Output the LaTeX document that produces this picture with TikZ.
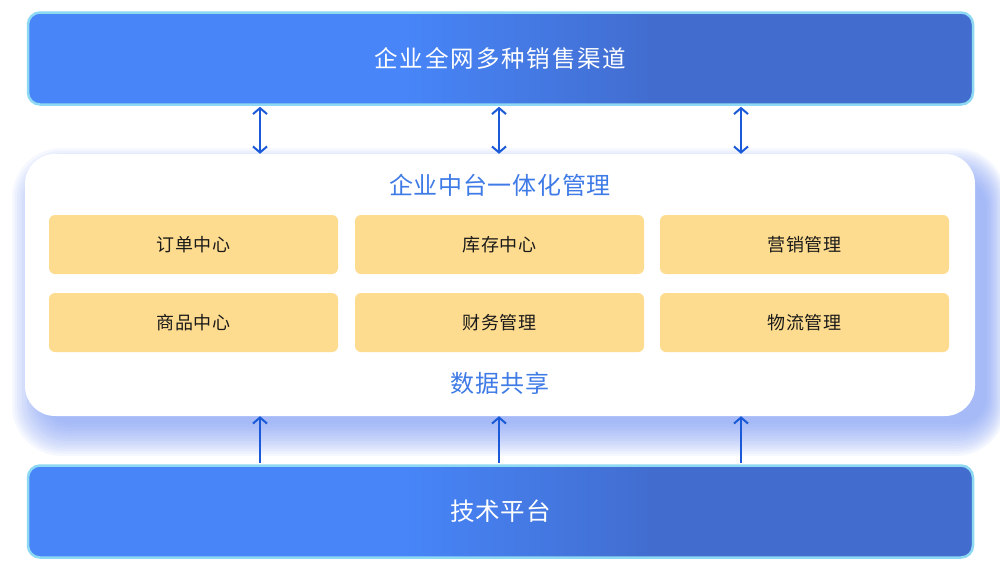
\documentclass[tikz,border=0pt]{standalone}
\usepackage{fontspec}
\setmainfont{Noto Sans CJK SC}
\usetikzlibrary{arrows.meta}
\definecolor{bA}{HTML}{4785F8}
\definecolor{bB}{HTML}{426DCF}
\definecolor{bord}{HTML}{8DD8F2}
\definecolor{yel}{HTML}{FEDC8F}
\definecolor{ttl}{HTML}{3F7BE6}
\definecolor{arr}{HTML}{1A5AD9}
\definecolor{shd}{HTML}{6E8FF2}
\definecolor{ink}{HTML}{1A1A1A}
\pgfdeclarehorizontalshading{bluebar}{100bp}{color(0bp)=(bA); color(45bp)=(bA); color(58bp)=(bB); color(100bp)=(bB)}
\tikzset{
  bar/.style={draw=bord, line width=2.5pt, rounded corners=12pt, shading=bluebar,
    minimum width=945pt, minimum height=92pt, inner sep=0pt, text=white},
  mod/.style={fill=yel, rounded corners=6pt, minimum width=289pt, minimum height=59pt,
    inner sep=0pt, text=ink, font=\fontsize{18}{20}\selectfont\addfontfeature{LetterSpace=3}},
  ttlstyle/.style={text=ttl, inner sep=0pt, font=\fontsize{24}{26}\selectfont\addfontfeature{LetterSpace=3}},
  link/.style={draw=arr, line width=2pt},
}
\begin{document}
\begin{tikzpicture}[x=1pt,y=-1pt]
\useasboundingbox (0,0) rectangle (1000,573);
% shadow of the middle panel
\foreach \i [evaluate=\i as \r using 50-1.8*\i] in {0,...,13}{
  \fill[shd, opacity=0.065, rounded corners=\r pt]
    (12+2.5*\i, 148+2.5*\i) rectangle (1006-1.5*\i, 456-2.5*\i);
}
\node[fill=white, rounded corners=30pt, minimum width=950pt, minimum height=262pt, inner sep=0pt] (mid) at (500,285) {};
\node[bar, font=\fontsize{23.5}{26}\selectfont\addfontfeature{LetterSpace=8}] (top) at (500.5,58.5) {企业全网多种销售渠道};
\node[bar, font=\fontsize{24.5}{26}\selectfont\addfontfeature{LetterSpace=3}] (bot) at (500.5,511.5) {技术平台};
\node[ttlstyle] (t1) at (500,185) {企业中台一体化管理};
\node[ttlstyle] (t2) at (500,383) {数据共享};
\node[mod] (m1) at (193.5,244.5) {订单中心};
\node[mod] (m2) at (499.5,244.5) {库存中心};
\node[mod] (m3) at (804.5,244.5) {营销管理};
\node[mod] (m4) at (193.5,322.5) {商品中心};
\node[mod] (m5) at (499.5,322.5) {财务管理};
\node[mod] (m6) at (804.5,322.5) {物流管理};
\coordinate (c1) at (260,0);
\coordinate (c2) at (499,0);
\coordinate (c3) at (741,0);
\foreach \c in {c1,c2,c3}{
  \draw[link, {Straight Barb[length=6pt,width=14pt]}-{Straight Barb[length=6pt,width=14pt]}]
    ([yshift=-1pt]top.south -| \c) -- (mid.north -| \c);
  \draw[link, -{Straight Barb[length=6pt,width=14pt]}]
    ([yshift=1pt]bot.north -| \c) -- (mid.south -| \c);
}
\end{tikzpicture}
\end{document}
